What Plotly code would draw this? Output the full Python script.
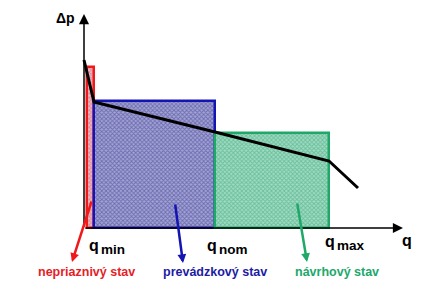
import plotly.graph_objects as go

# ---- data (q along horizontal axis, Δp vertical) ----
state_names = ["nepriaznivý stav", "prevádzkový stav", "návrhový stav"]
bar_start = [3, 10, 131]          # q where each operating range starts
bar_end = [10, 131, 245]          # q where each range ends (q_min, q_nom, q_max)
bar_height = [161, 127, 95]       # Δp level of each range
curve_q = [0, 10, 131, 245, 274]
curve_dp = [168, 126, 96, 67, 40]
q_tick_pos = [3, 121, 239]
q_tick_sub = ["min", "nom", "max"]

border_cols = ["#f01818", "#1414b4", "#1fa868"]
fg_cols = ["#b86c88", "#34348a", "#34a078"]
bg_cols = ["#f4b4bc", "#a4a4d6", "#a0dcc2"]
text_cols = ["#e41e26", "#1c1ca4", "#20a86a"]

fig = go.Figure()
for i in range(3):
    fig.add_trace(go.Bar(
        x=[(bar_start[i] + bar_end[i]) / 2], y=[bar_height[i]],
        width=[bar_end[i] - bar_start[i]], base=0,
        marker=dict(color=bg_cols[i],
                    pattern=dict(shape="x", fgcolor=fg_cols[i], bgcolor=bg_cols[i],
                                 size=3, solidity=0.5),
                    line=dict(color=border_cols[i], width=2.5)),
        showlegend=False, hoverinfo="skip"))

fig.add_trace(go.Scatter(x=curve_q, y=curve_dp, mode="lines",
                         line=dict(color="black", width=3),
                         showlegend=False, hoverinfo="skip"))

ann = []
# axes with arrows
ann.append(dict(x=0, y=214, ax=0, ay=0, axref="x", ayref="y", xref="x", yref="y",
                text="", showarrow=True, arrowhead=2, arrowsize=1.35, arrowwidth=1.5,
                arrowcolor="black"))
ann.append(dict(x=319, y=0, ax=0, ay=0, axref="x", ayref="y", xref="x", yref="y",
                text="", showarrow=True, arrowhead=2, arrowsize=1.35, arrowwidth=1.5,
                arrowcolor="black"))
ann.append(dict(x=-7, y=210, text="<b>Δp</b>", showarrow=False, xanchor="right",
                font=dict(family="Liberation Sans", size=14, color="black")))
ann.append(dict(x=316, y=-12, text="<b>q</b>", showarrow=False, xanchor="left",
                font=dict(family="Liberation Sans", size=16, color="black")))
q_y = [-17, -17, -13]
for i in range(3):
    ann.append(dict(x=q_tick_pos[i], y=q_y[i], text="<b>q</b>", showarrow=False,
                    xanchor="left",
                    font=dict(family="Liberation Sans", size=16, color="black")))
    ann.append(dict(x=q_tick_pos[i] + 12, y=q_y[i] - 4, text="<b>" + q_tick_sub[i] + "</b>",
                    showarrow=False, xanchor="left",
                    font=dict(family="Liberation Sans", size=13.5, color="black")))

# pointer arrows and state labels
arrow_tail = [(8, 28), (91, 25), (213, 26)]
arrow_tip = [(-12, -34), (99, -35), (223, -34)]
label_x = [2, 131, 253]
for i in range(3):
    ann.append(dict(x=arrow_tip[i][0], y=arrow_tip[i][1], ax=arrow_tail[i][0],
                    ay=arrow_tail[i][1], axref="x", ayref="y", xref="x", yref="y",
                    text="", showarrow=True, arrowhead=2, arrowsize=0.7, arrowwidth=2.5,
                    arrowcolor=border_cols[i]))
    ann.append(dict(x=label_x[i], y=-44, text="<b>" + state_names[i] + "</b>",
                    showarrow=False,
                    font=dict(family="Liberation Sans", size=12.5, color=text_cols[i])))

fig.update_layout(
    width=438, height=292, margin=dict(l=0, r=0, t=0, b=0),
    paper_bgcolor="white", plot_bgcolor="white",
    barmode="overlay", bargap=0,
    xaxis=dict(range=[-84, 354], visible=False, fixedrange=True),
    yaxis=dict(range=[-64, 228], visible=False, fixedrange=True),
    annotations=ann,
)
fig.write_html("out.html")
